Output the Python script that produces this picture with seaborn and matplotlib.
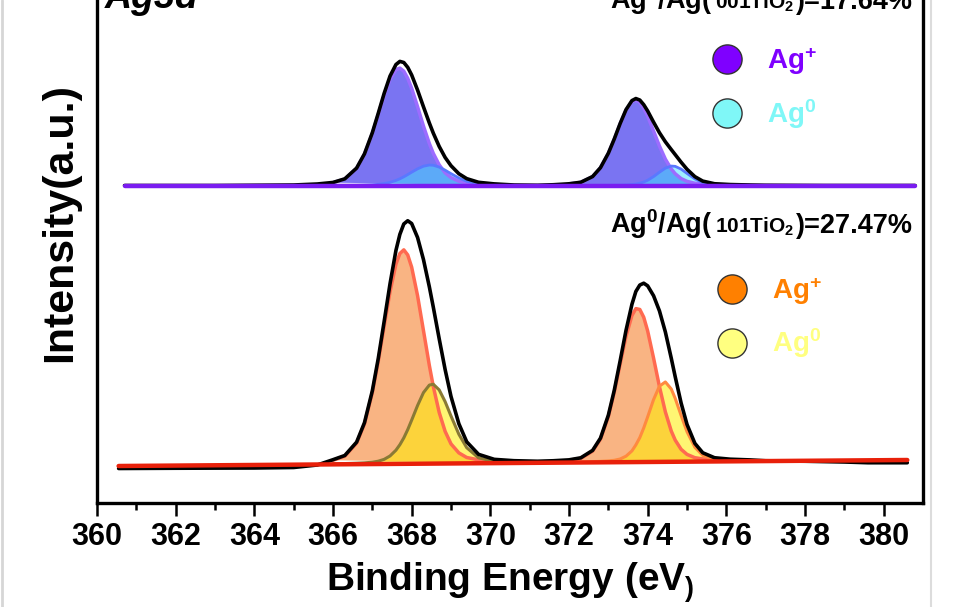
import matplotlib
matplotlib.use("Agg")
import matplotlib.pyplot as plt
import seaborn as sns
from matplotlib.lines import Line2D
from matplotlib.offsetbox import TextArea, HPacker, AnnotationBbox

# binding energy grids (eV) around the two Ag 3d peaks
be_peak1 = [366.0, 366.3, 366.6, 366.8, 367.0, 367.15, 367.3, 367.45, 367.6, 367.7,
            367.8, 367.9, 368.0, 368.15, 368.3, 368.45, 368.55, 368.7, 368.85, 369.0,
            369.2, 369.4, 369.7, 370.1, 370.6]
be_peak2 = [372.0, 372.3, 372.6, 372.8, 373.0, 373.15, 373.3, 373.45, 373.6, 373.7,
            373.8, 373.9, 374.0, 374.15, 374.3, 374.45, 374.6, 374.7, 374.85, 375.0,
            375.2, 375.4, 375.7, 376.1, 376.6]

# --- upper spectrum: Ag / 001 TiO2 ---
up_base_be = [360.7, 380.8]
up_base = [63.5, 63.5]
up_env_be = [360.7, 363.0, 365.0, 365.6] + be_peak1 + [371.2, 371.6] + be_peak2 + [377.0, 378.5, 380.8]
up_env = ([63.5, 63.5, 63.6, 63.8]
          + [64.11, 64.83, 66.98, 69.83, 74.06, 77.92, 81.91, 85.39, 87.69, 88.32,
             88.10, 87.13, 85.60, 82.58, 79.24, 75.99, 73.97, 71.31, 69.12, 67.46,
             65.85, 64.87, 64.14, 63.82, 63.6]
          + [63.55, 63.65]
          + [63.84, 64.15, 65.29, 67.06, 69.95, 72.78, 75.89, 78.67, 80.48, 80.89,
             80.59, 79.66, 78.40, 76.17, 74.05, 72.24, 70.69, 69.68, 68.16, 66.75,
             65.27, 64.38, 63.85, 63.69, 63.6]
          + [63.55, 63.5, 63.5])
up_agp_1 = [64.07, 64.79, 66.92, 69.74, 73.91, 77.69, 81.53, 84.76, 86.68, 86.98,
            86.36, 84.94, 82.94, 79.25, 75.38, 71.89, 69.92, 67.63, 66.05, 65.09,
            64.35, 64.02, 63.82, 63.72, 63.5]
up_ag0_1 = [63.53, 63.54, 63.56, 63.59, 63.64, 63.73, 63.88, 64.13, 64.51, 64.84,
            65.24, 65.69, 66.16, 66.83, 67.36, 67.60, 67.55, 67.18, 66.57, 65.87,
            65.00, 64.34, 63.81, 63.60, 63.5]
up_agp_2 = [63.82, 64.13, 65.26, 67.03, 69.91, 72.73, 75.82, 78.57, 80.29, 80.60,
            80.14, 78.96, 77.35, 74.39, 71.39, 68.77, 66.80, 65.85, 64.88, 64.33,
            63.95, 63.80, 63.70, 63.64, 63.5]
up_ag0_2 = [63.52, 63.52, 63.53, 63.53, 63.54, 63.55, 63.57, 63.60, 63.69, 63.79,
            63.95, 64.20, 64.55, 65.28, 66.16, 66.97, 67.39, 67.33, 66.78, 65.92,
            64.82, 64.08, 63.65, 63.55, 63.5]

# --- lower spectrum: Ag / 101 TiO2 ---
lo_base_be = [360.55, 380.6]
lo_base = [7.4, 8.6]
lo_env_be = [360.55, 362.0, 364.0, 365.0, 365.6] + be_peak1 + [371.2, 371.6] + be_peak2 + [377.0, 378.0, 379.0, 379.6, 380.6]
lo_env = ([6.9, 6.95, 7.0, 7.1, 7.6]
          + [8.66, 9.50, 12.17, 16.06, 22.44, 28.87, 36.28, 43.86, 50.51, 53.73,
             55.81, 56.45, 55.89, 53.10, 48.69, 43.21, 39.17, 32.84, 26.72, 21.31,
             15.85, 12.23, 9.73, 8.73, 8.46]
          + [8.35, 8.45]
          + [8.63, 9.04, 10.52, 12.97, 17.55, 22.50, 28.42, 34.54, 39.74, 42.31,
             43.59, 43.96, 43.43, 41.45, 38.41, 34.20, 28.95, 25.26, 20.00, 15.72,
             11.93, 10.05, 9.05, 8.76, 8.62]
          + [8.45, 8.35, 8.2, 8.05, 8.05])
lo_agp_1 = [8.55, 9.36, 11.97, 15.81, 22.07, 28.31, 35.36, 42.26, 47.77, 49.90,
            50.63, 49.61, 47.17, 41.46, 34.48, 27.49, 23.30, 18.11, 14.34, 11.82,
            10.02, 9.10, 8.63, 8.41, 8.0]
lo_ag0_1 = [7.84, 7.89, 7.96, 8.03, 8.16, 8.36, 8.73, 9.41, 10.56, 11.66,
            13.02, 14.68, 16.57, 19.50, 22.08, 23.59, 23.75, 22.62, 20.28, 17.40,
            13.75, 11.06, 9.04, 8.30, 8.0]
lo_agp_2 = [8.54, 8.92, 10.37, 12.77, 17.27, 22.12, 27.78, 33.35, 37.50, 38.88,
            38.71, 37.15, 34.41, 28.98, 23.26, 18.22, 14.39, 12.58, 10.74, 9.72,
            9.06, 8.82, 8.65, 8.58, 8.36]
lo_ag0_2 = [8.18, 8.22, 8.27, 8.33, 8.42, 8.54, 8.80, 9.36, 10.42, 11.62,
            13.08, 15.01, 17.23, 20.68, 23.37, 24.21, 22.80, 20.93, 17.52, 14.26,
            11.15, 9.53, 8.71, 8.52, 8.36]

x_ticks = [360, 362, 364, 366, 368, 370, 372, 374, 376, 378, 380]
legend_labels = ["Ag$^{+}$", "Ag$^{0}$"]
ratio_001 = "17.64%"
ratio_101 = "27.47%"

sns.set_theme(style="ticks")
plt.rcParams["font.family"] = ["Liberation Sans", "DejaVu Sans"]
plt.rcParams["text.color"] = "black"
plt.rcParams["axes.labelcolor"] = "black"
plt.rcParams["mathtext.fontset"] = "custom"
plt.rcParams["mathtext.rm"] = "Liberation Sans:bold"
plt.rcParams["mathtext.bf"] = "Liberation Sans:bold"
plt.rcParams["mathtext.it"] = "Liberation Sans:bold:italic"
plt.rcParams["mathtext.default"] = "bf"

fig = plt.figure(figsize=(9.72, 6.07), dpi=100)
ax = fig.add_axes([97 / 972, 104 / 607, 826 / 972, 560 / 607])

# upper panel components
ax.fill(be_peak1, up_agp_1, color="#7a74f2", lw=0, zorder=1)
ax.fill(be_peak2, up_agp_2, color="#7a74f2", lw=0, zorder=1)
ax.fill(be_peak1, up_ag0_1, color="#40e0ff", alpha=0.5, lw=0, zorder=2)
ax.fill(be_peak2, up_ag0_2, color="#40e0ff", alpha=0.5, lw=0, zorder=2)
sns.lineplot(x=be_peak1, y=up_agp_1, ax=ax, color="#9c6cff", lw=2.5, zorder=3)
sns.lineplot(x=be_peak2, y=up_agp_2, ax=ax, color="#9c6cff", lw=2.5, zorder=3)
sns.lineplot(x=be_peak1, y=up_ag0_1, ax=ax, color="#5a78ff", lw=2, zorder=3)
sns.lineplot(x=be_peak2, y=up_ag0_2, ax=ax, color="#5a78ff", lw=2, zorder=3)
sns.lineplot(x=up_env_be, y=up_env, ax=ax, color="black", lw=2.6, zorder=4)
sns.lineplot(x=up_base_be, y=up_base, ax=ax, color="#7a1cf0", lw=3.2, zorder=5)

# lower panel components
ax.fill(be_peak1, lo_agp_1, color="#f9b483", lw=0, zorder=1)
ax.fill(be_peak2, lo_agp_2, color="#f9b483", lw=0, zorder=1)
ax.fill(be_peak1, lo_ag0_1, color="#ffee00", alpha=0.55, lw=0, zorder=2)
ax.fill(be_peak2, lo_ag0_2, color="#ffee00", alpha=0.55, lw=0, zorder=2)
sns.lineplot(x=be_peak1, y=lo_agp_1, ax=ax, color="#ff6a50", lw=2.5, zorder=3)
sns.lineplot(x=be_peak2, y=lo_agp_2, ax=ax, color="#ff6a50", lw=2.5, zorder=3)
sns.lineplot(x=be_peak1, y=lo_ag0_1, ax=ax, color="#8a7a35", lw=2.2, zorder=3)
sns.lineplot(x=be_peak2, y=lo_ag0_2, ax=ax, color="#ff8a40", lw=2.2, zorder=3)
sns.lineplot(x=lo_env_be, y=lo_env, ax=ax, color="black", lw=2.6, zorder=4)
sns.lineplot(x=lo_base_be, y=lo_base, ax=ax, color="#e8200a", lw=3.2, zorder=5)

ax.set_xlim(360, 381)
ax.set_ylim(0, 112)
ax.set_xticks(x_ticks)
ax.set_xticks([t + 1 for t in x_ticks[:-1]], minor=True)
ax.set_yticks([])
for s in ax.spines.values():
    s.set_linewidth(2.4)
    s.set_color("black")
ax.tick_params(axis="x", which="major", length=9, width=1.8, pad=5,
               labelsize=22, direction="out", colors="black")
ax.tick_params(axis="x", which="minor", length=5, width=1.8, direction="out",
               bottom=True, colors="black")
for lab in ax.get_xticklabels():
    lab.set_fontweight("bold")
ax.set_xlabel("Binding Energy (eV${}_{)}$", fontsize=28, fontweight="bold",
              labelpad=6, color="black")
ax.set_ylabel("Intensity(a.u.)", fontsize=31, fontweight="bold", labelpad=12,
              color="black")

ax.text(0.01, 0.884, "Ag3d", transform=ax.transAxes, fontsize=27,
        fontweight="bold", fontstyle="italic", ha="left", va="baseline",
        color="black")


def ratio_label(face, value, xy):
    big = dict(fontsize=19.5, fontweight="bold", color="black")
    small = dict(fontsize=15, fontweight="bold", color="black")
    box = HPacker(children=[TextArea("Ag$^{0}$/Ag(", textprops=big),
                            TextArea(face + "TiO$_{2}$", textprops=small),
                            TextArea(")=" + value, textprops=big)],
                  align="baseline", pad=0, sep=1.5)
    ab = AnnotationBbox(box, xy, xycoords="figure fraction", box_alignment=(1, 0),
                        frameon=False, pad=0)
    fig.add_artist(ab)


ratio_label("001", ratio_001, (913 / 972, (607 - 17) / 607))
ratio_label("101", ratio_101, (913 / 972, (607 - 241) / 607))


def legend_for(colors, anchor):
    handles = [Line2D([], [], ls="none", marker="o", ms=21, mfc=c, mec="#333333",
                      mew=1.0) for c in colors]
    leg = ax.legend(handles, legend_labels, loc="upper left",
                    bbox_to_anchor=anchor, bbox_transform=fig.transFigure,
                    frameon=False, fontsize=20, labelcolor=colors,
                    handlelength=1.0, handletextpad=0.95, labelspacing=0.72,
                    borderpad=0, borderaxespad=0)
    for t in leg.get_texts():
        t.set_fontweight("bold")
    return leg


leg1 = legend_for(["#7f00ff", "#7ff7f7"], (713 / 972, (607 - 45) / 607))
ax.add_artist(leg1)
legend_for(["#ff8000", "#ffff80"], (718 / 972, (607 - 275) / 607))

# light grey edges of the original screenshot
fig.add_artist(Line2D([0.002, 0.002], [0, 1], color="#d6d6d6", lw=2,
                      transform=fig.transFigure))
fig.add_artist(Line2D([931 / 972, 931 / 972], [0, 1], color="#dcdcdc", lw=1.5,
                      transform=fig.transFigure))

fig.savefig("out.png", dpi=100)
